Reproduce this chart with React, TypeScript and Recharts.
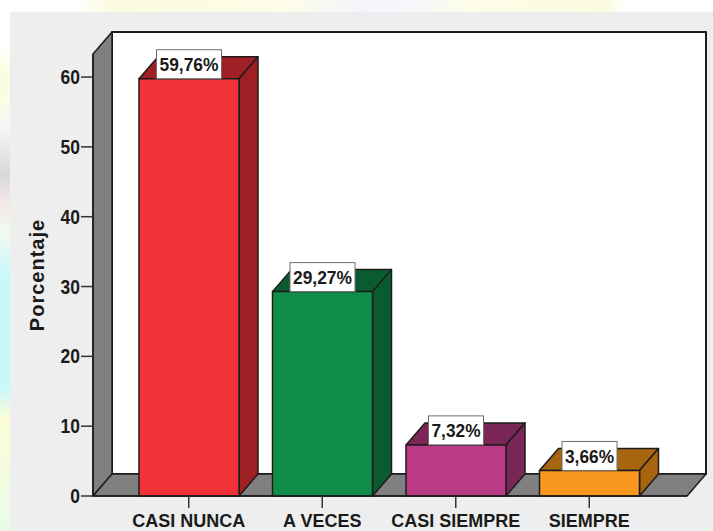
import React from 'react';
import { BarChart, Bar, XAxis, YAxis, ReferenceArea, LabelList } from 'recharts';

const categories = ['CASI NUNCA', 'A VECES', 'CASI SIEMPRE', 'SIEMPRE'];
const percentages = [59.76, 29.27, 7.32, 3.66];
const yTicks = [0, 10, 20, 30, 40, 50, 60];
const frontColors = ['#F23239', '#0F8C47', '#B93A85', '#F8961E'];
const sideColors = ['#A01F24', '#0A5C30', '#7A2758', '#A8650F'];

const rows = categories.map((name, i) => ({ name, value: percentages[i] }));

// Oblique offset of the 3D extrusion
const DX = 19;
const DY = -22;
// Gap between the axis ends and the first and last category bands
const PAD_LEFT = 29;
const PAD_RIGHT = 31;
const OUTLINE = '#1c1c1c';
const font = '"Liberation Sans", Arial, sans-serif';

const pts = (...p: number[][]) => p.map((q) => q.join(',')).join(' ');

// Floor, left wall and back wall, built from the plot rectangle
function Room({ x, y, width, height }: any) {
  const l = x - PAD_LEFT;
  const r = x + width + PAD_RIGHT;
  const b = y + height;
  return (
    <g stroke={OUTLINE} strokeWidth={1.5} strokeLinejoin="round">
      <polygon fill="#fff" points={pts([l + DX, y + DY], [r + DX, y + DY], [r + DX, b + DY], [l + DX, b + DY])} strokeWidth={2} />
      <polygon fill="#808080" points={pts([l, y], [l + DX, y + DY], [l + DX, b + DY], [l, b])} />
      <polygon fill="#808080" points={pts([l, b], [l + DX, b + DY], [r + DX, b + DY], [r, b])} />
    </g>
  );
}

function Box3D({ x, y, width, height, index }: any) {
  const r = x + width;
  const b = y + height;
  const side = sideColors[index];
  return (
    <g stroke={OUTLINE} strokeWidth={1.5} strokeLinejoin="round">
      <polygon fill={side} points={pts([x, y], [x + DX, y + DY], [r + DX, y + DY], [r, y])} />
      <polygon fill={side} points={pts([r, y], [r + DX, y + DY], [r + DX, b + DY], [r, b])} />
      <rect x={x} y={y} width={width} height={height} fill={frontColors[index]} />
    </g>
  );
}

// White value tag resting on the top edge of a bar
function ValueTag({ x, y, width, value }: any) {
  const text = `${Number(value).toFixed(2).replace('.', ',')}%`;
  const w = text.length * 10 + 5;
  const h = 29;
  const cx = x + width / 2;
  return (
    <g>
      <rect x={cx - w / 2} y={y - h} width={w} height={h} fill="#fff" stroke="#6e6e6e" strokeWidth={1} />
      <text x={cx} y={y - 7.5} textAnchor="middle" fontFamily={font} fontWeight="bold" fontSize={19} fill="#1a1a1a" textLength={w - 6} lengthAdjust="spacingAndGlyphs">
        {text}
      </text>
    </g>
  );
}

const tickStyle = { fontFamily: font, fontWeight: 'bold', fontSize: 18, fill: '#1a1a1a' };

// Slightly condensed numerals for the value axis
function ValueTick({ x, y, payload }: any) {
  const text = String(payload.value);
  return (
    <text x={x} y={y + 7} textAnchor="end" fontFamily={font} fontWeight="bold" fontSize={20} fill="#1a1a1a" textLength={text.length * 9.7} lengthAdjust="spacingAndGlyphs">
      {text}
    </text>
  );
}

export default function App() {
  return (
    <div
      style={{
        position: 'absolute',
        left: 0,
        top: 0,
        width: 713,
        height: 531,
        overflow: 'hidden',
        background: 'linear-gradient(180deg,#ffffff 0%,#ffffff 9%,#fcfce4 13%,#fcfce6 19%,#f6f6f6 24%,#d9d9d9 33%,#f3e6e6 38%,#f0fbf0 44%,#c8f8fb 52%,#c8f8fb 73%,#fdfdd8 79%,#e8fbe8 100%)',
      }}
    >
      <div style={{ position: 'absolute', left: 0, top: 0, width: 713, height: 12, background: 'linear-gradient(90deg,#ffffff 10%,#fbfbdf 16%,#fdfde8 40%,#f6f4fb 50%,#f8f6fb 58%,#fdfde8 66%,#fbfbdf 85%,#ffffff 88%)' }} />
      <div style={{ position: 'absolute', left: 10, top: 12, width: 703, height: 519, background: '#EEEEEE' }} />
      <div style={{ position: 'absolute', left: 0, top: 0 }}>
        <BarChart width={713} height={531} data={rows} margin={{ top: 54, right: 26, bottom: 0, left: 0 }}>
          <ReferenceArea shape={<Room />} ifOverflow="visible" fill="none" stroke="none" />
          <XAxis
            dataKey="name"
            height={35}
            padding={{ left: PAD_LEFT, right: PAD_RIGHT }}
            interval={0}
            tickSize={12}
            tickMargin={6}
            tick={tickStyle}
            axisLine={{ stroke: OUTLINE, strokeWidth: 1.5 }}
            tickLine={{ stroke: '#333', strokeWidth: 1.5 }}
          />
          <YAxis
            width={93}
            domain={[0, 63.3]}
            ticks={yTicks}
            interval={0}
            tickSize={12}
            tickMargin={1}
            tick={<ValueTick />}
            axisLine={{ stroke: OUTLINE, strokeWidth: 1.5 }}
            tickLine={{ stroke: '#333', strokeWidth: 1.5 }}
            label={{ value: 'Porcentaje', angle: -90, position: 'insideLeft', offset: 37, style: { ...tickStyle, fontSize: 20, textAnchor: 'middle', letterSpacing: 1 } }}
          />
          <Bar dataKey="value" barSize={100} shape={<Box3D />} isAnimationActive={false}>
            <LabelList dataKey="value" content={<ValueTag />} />
          </Bar>
        </BarChart>
      </div>
    </div>
  );
}
